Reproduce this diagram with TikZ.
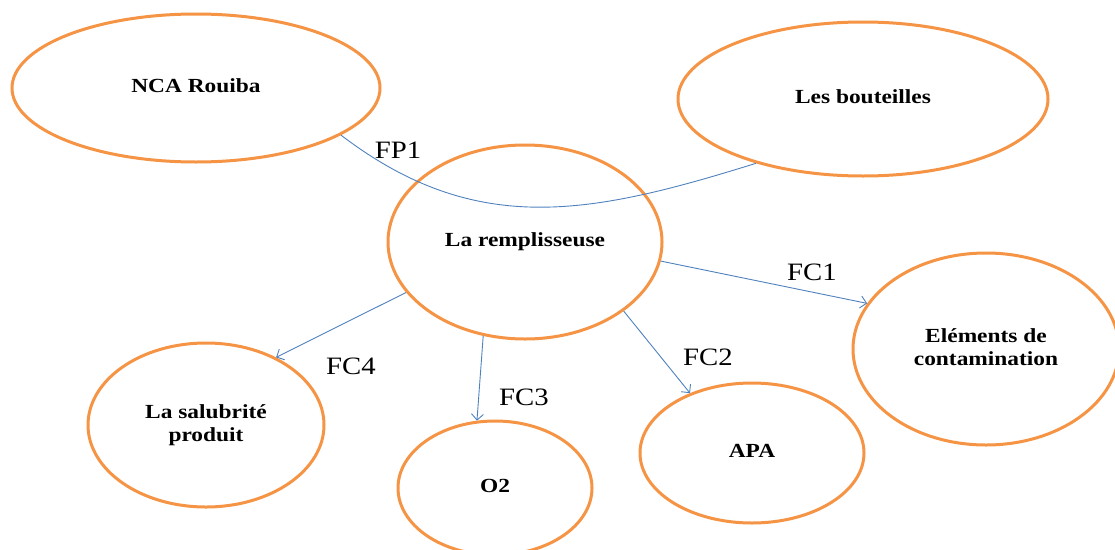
\documentclass[tikz,border=0pt]{standalone}
\usepackage{fontspec}
\setmainfont{Liberation Serif}
\usetikzlibrary{shapes.geometric,arrows.meta}
\definecolor{ringorange}{RGB}{245,148,68}
\definecolor{linkblue}{RGB}{79,129,189}
% bold, slightly widened labels inside the ellipses
\newcommand\boldlbl[1]{\scalebox{1.17}[1]{\fontsize{20}{23}\selectfont\bfseries\begin{tabular}{@{}c@{}}#1\end{tabular}}}
% function labels beside the connectors
\newcommand\fnlbl[1]{\scalebox{1.15}[1]{\fontsize{25}{30}\selectfont #1}}

\begin{document}
\begin{tikzpicture}[x=1pt,y=-1pt,
  bubble/.style={ellipse, draw=ringorange, line width=3pt, inner sep=0pt},
  link/.style={draw=linkblue, line width=0.9pt},
  flow/.style={link, -{Straight Barb[length=6pt,width=12pt]}},
  fnname/.style={inner sep=0pt}]
\useasboundingbox (0,0) rectangle (1115,549);

% ellipses
\node[bubble, minimum width=368pt, minimum height=148pt] (nca)  at (196,88)  {\boldlbl{NCA Rouiba}};
\node[bubble, minimum width=370pt, minimum height=154pt] (bout) at (863,99)  {\boldlbl{Les bouteilles}};
\node[bubble, minimum width=274pt, minimum height=194pt] (rem)  at (525,242) {\boldlbl{La remplisseuse}};
\node[bubble, minimum width=266pt, minimum height=192pt] (elem) at (986,349) {\boldlbl{Eléments de\\contamination}};
\node[bubble, minimum width=236pt, minimum height=164pt] (sal)  at (206,425) {\boldlbl{La salubrité\\produit}};
\node[bubble, minimum width=194pt, minimum height=134pt] (otwo) at (495,488) {\boldlbl{O2}};
\node[bubble, minimum width=224pt, minimum height=140pt] (apa)  at (752,453) {\boldlbl{APA}};

% principal function: curve linking the two outer elements through the machine
\draw[link] (nca.-18) .. controls (476,238) and (590,215) .. (bout.-149);

% constraint functions
\draw[flow] (rem.-8)    -- (elem.159);
\draw[flow] (rem.-35)   -- (apa.136);
\draw[flow] (rem.246.6) -- (otwo.105);
\draw[flow] (rem.203.6) -- (sal.44);

% labels
\node[fnname] (fp1) at (398,150) {\fnlbl{FP1}};
\node[fnname] (fc1) at (812,272) {\fnlbl{FC1}};
\node[fnname] (fc2) at (708,357) {\fnlbl{FC2}};
\node[fnname] (fc3) at (524,397) {\fnlbl{FC3}};
\node[fnname] (fc4) at (351,366) {\fnlbl{FC4}};
\end{tikzpicture}
\end{document}
